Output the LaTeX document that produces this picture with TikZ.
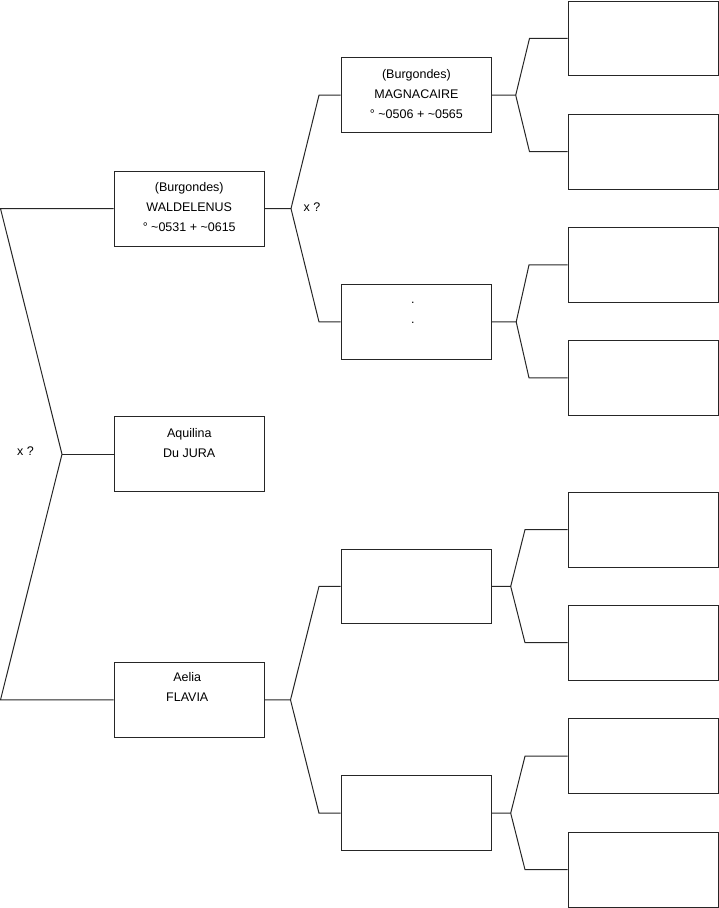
\documentclass[tikz,border=0pt]{standalone}
\usepackage{fontspec}
\setmainfont{Liberation Sans}
\begin{document}
\begin{tikzpicture}[x=1pt,y=-1pt,
  line/.style={draw=black!85,line width=1pt},
  pbox/.style={line,minimum width=150.5pt,minimum height=74.8pt,inner sep=0pt,anchor=north west},
  ptext/.style={anchor=north,align=center,inner sep=0pt,font=\fontsize{12.5}{20}\selectfont},
  xlab/.style={inner sep=0pt,font=\fontsize{12.5}{20}\selectfont}]
\useasboundingbox (0,0) rectangle (719,908);
\newcommand{\fl}{\rule{0pt}{10pt}}
% column 1
\node[pbox] (wald) at (113.5,170.7) {};
\node[pbox] (aqui) at (113.5,416.3) {};
\node[pbox] (aelia) at (113.5,662) {};
% column 2
\node[pbox] (magn) at (340.7,57.3) {};
\node[pbox] (dotb) at (340.7,284) {};
\node[pbox] (bc) at (340.7,548.5) {};
\node[pbox] (bd) at (340.7,775.3) {};
% column 3
\node[pbox] (r1) at (567.5,0.5) {};
\node[pbox] (r2) at (567.5,113.8) {};
\node[pbox] (r3) at (567.5,227) {};
\node[pbox] (r4) at (567.5,340) {};
\node[pbox] (r5) at (567.5,491.7) {};
\node[pbox] (r6) at (567.5,604.8) {};
\node[pbox] (r7) at (567.5,718.3) {};
\node[pbox] (r8) at (567.5,831.7) {};
% texts
\node[ptext] (twald) at ([yshift=-10.5pt]wald.north) {\fl(Burgondes)\\WALDELENUS\\° \textasciitilde0531 + \textasciitilde0615};
\node[ptext] (taqui) at ([yshift=-10.5pt]aqui.north) {\fl Aquilina\\Du JURA};
\node[ptext] (taelia) at ([yshift=-9.5pt,xshift=-2pt]aelia.north) {\fl Aelia\\FLAVIA};
\node[ptext] (tmagn) at ([yshift=-10.5pt]magn.north) {\fl(Burgondes)\\MAGNACAIRE\\° \textasciitilde0506 + \textasciitilde0565};
\node[ptext] (tdot) at ([yshift=-9pt,xshift=-3.5pt]dotb.north) {\fl.\\.};
\node[xlab] (x1) at (25.5,451.5) {x ?};
\node[xlab] (x2) at (312,207) {x ?};
% root fork
\coordinate (lft) at (0.5,0);
\coordinate (rootx) at (62,0);
\coordinate (f0) at (rootx |- aqui.west);
\draw[line] (wald.west) -- (lft |- wald.west) -- (f0) -- (lft |- aelia.west) -- (aelia.west);
\draw[line] (f0) -- (aqui.west);
% WALDELENUS fork
\coordinate (fw) at ([xshift=26pt]wald.east);
\draw[line] (wald.east) -- (fw) -- ([xshift=-21.7pt]magn.west) -- (magn.west);
\draw[line] (fw) -- ([xshift=-21.7pt]dotb.west) -- (dotb.west);
% Aelia fork
\coordinate (fa) at ([xshift=25.5pt]aelia.east);
\draw[line] (aelia.east) -- (fa) -- ([xshift=-21.7pt]bc.west) -- (bc.west);
\draw[line] (fa) -- ([xshift=-21.7pt]bd.west) -- (bd.west);
% column 2 forks
\coordinate (fm) at ([xshift=23.5pt]magn.east);
\draw[line] (magn.east) -- (fm) -- ([xshift=-38pt]r1.west) -- (r1.west);
\draw[line] (fm) -- ([xshift=-38pt]r2.west) -- (r2.west);
\coordinate (fd) at ([xshift=24pt]dotb.east);
\draw[line] (dotb.east) -- (fd) -- ([xshift=-38.5pt]r3.west) -- (r3.west);
\draw[line] (fd) -- ([xshift=-38.5pt]r4.west) -- (r4.west);
\coordinate (fc) at ([xshift=18.5pt]bc.east);
\draw[line] (bc.east) -- (fc) -- ([xshift=-42.5pt]r5.west) -- (r5.west);
\draw[line] (fc) -- ([xshift=-42.5pt]r6.west) -- (r6.west);
\coordinate (fe) at ([xshift=18.5pt]bd.east);
\draw[line] (bd.east) -- (fe) -- ([xshift=-42.5pt]r7.west) -- (r7.west);
\draw[line] (fe) -- ([xshift=-42.5pt]r8.west) -- (r8.west);
\end{tikzpicture}
\end{document}
